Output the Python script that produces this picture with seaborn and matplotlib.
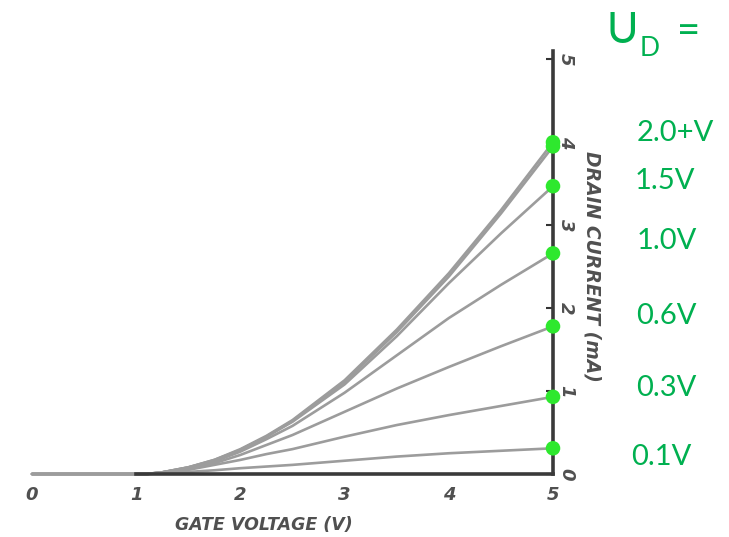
import matplotlib
matplotlib.use("Agg")
import matplotlib.pyplot as plt
import seaborn as sns
import pandas as pd

# gate voltage samples (V)
gate_v = [0, 1.0, 1.1, 1.25, 1.5, 1.75, 2.0, 2.25, 2.5, 3.0, 3.5, 4.0, 4.5, 5.0]

# drain current (mA) for each drain voltage
drain_labels = ["2.5V", "2.0V", "1.5V", "1.0V", "0.6V", "0.3V", "0.1V"]
i_25 = [0, 0, 0, 0.02, 0.08, 0.17, 0.30, 0.46, 0.65, 1.13, 1.74, 2.42, 3.18, 4.00]
i_20 = [0, 0, 0, 0.02, 0.08, 0.17, 0.29, 0.45, 0.64, 1.11, 1.71, 2.38, 3.14, 3.95]
i_15 = [0, 0, 0, 0.02, 0.08, 0.16, 0.29, 0.45, 0.63, 1.08, 1.66, 2.30, 2.90, 3.47]
i_10 = [0, 0, 0, 0.02, 0.07, 0.15, 0.27, 0.42, 0.58, 0.98, 1.43, 1.88, 2.28, 2.66]
i_06 = [0, 0, 0, 0.02, 0.06, 0.13, 0.23, 0.35, 0.47, 0.75, 1.03, 1.29, 1.54, 1.78]
i_03 = [0, 0, 0, 0.015, 0.05, 0.11, 0.17, 0.24, 0.30, 0.45, 0.59, 0.71, 0.82, 0.93]
i_01 = [0, 0, 0, 0.01, 0.025, 0.045, 0.07, 0.09, 0.11, 0.16, 0.21, 0.25, 0.28, 0.31]

# labels on the right (text, x / y pixel of centre)
side_labels = ["2.0+V", "1.5V", "1.0V", "0.6V", "0.3V", "0.1V"]
side_y = [133, 181, 241, 316, 388, 457]
side_x = [637, 635, 637, 636, 636, 631]

currents = [i_25, i_20, i_15, i_10, i_06, i_03, i_01]
rows = []
for lab, vals in zip(drain_labels, currents):
    for v, i in zip(gate_v, vals):
        rows.append({"vg": v, "id": i, "vd": lab})
df = pd.DataFrame(rows)
ends = df[df["vg"] == gate_v[-1]]

sns.set_style("white")

W, H = 729, 537
fig = plt.figure(figsize=(W / 100, H / 100), dpi=100)
ax = fig.add_axes([32 / W, 63 / H, 521 / W, 423 / H])

grey = "#9c9c9c"
sns.lineplot(data=df, x="vg", y="id", hue="vd", palette=[grey] * 7,
             linewidth=1.9, legend=False, ax=ax, clip_on=False)
sns.scatterplot(data=ends, x="vg", y="id", color="#2ee82e", s=110,
                edgecolor="none", legend=False, ax=ax, clip_on=False, zorder=5)

ax.set_xlim(0, 5)
ax.set_ylim(0, 5.1)

for s in ["left", "top"]:
    ax.spines[s].set_visible(False)
for s in ["right", "bottom"]:
    ax.spines[s].set_color("#3a3a3a")
    ax.spines[s].set_linewidth(2.6)
ax.spines["bottom"].set_bounds(1.0, 5)
ax.spines["right"].set_bounds(0, 5.1)

tick_font = dict(fontsize=13, fontweight="bold", fontstyle="italic", color="#505050")
ax.set_xticks(range(6))
ax.set_xticklabels([str(t) for t in range(6)], **tick_font)
ax.yaxis.tick_right()
ax.set_yticks(range(6))
ax.set_yticklabels([str(t) for t in range(6)], rotation=-90, va="center", **tick_font)
ax.tick_params(axis="x", direction="in", length=6, width=1.5, color="#333333", pad=9)
ax.tick_params(axis="y", direction="in", length=5, width=1.5, color="#333333", pad=3)

ax.set_xlabel("GATE VOLTAGE (V)", fontsize=12.5, fontweight="bold",
              fontstyle="italic", color="#505050")
ax.xaxis.set_label_coords((264 - 32) / 521, -0.1)
ax.set_ylabel("")
fig.text(592 / W, 1 - 266 / H, "DRAIN CURRENT (mA)", rotation=-90,
         ha="center", va="center", fontsize=13.5, fontweight="bold",
         fontstyle="italic", color="#505050")

green = "#00b050"
fig.text(606 / W, 1 - 31 / H, "U", fontsize=31, color=green, family="Lato",
         ha="left", va="center")
fig.text(640 / W, 1 - 49 / H, "D", fontsize=19, color=green, family="Lato",
         ha="left", va="center")
fig.text(677 / W, 1 - 31 / H, "=", fontsize=29, color=green, family="Lato",
         ha="left", va="center")
for txt, px, py in zip(side_labels, side_x, side_y):
    fig.text(px / W, 1 - py / H, txt, fontsize=21, color=green, family="Lato",
             ha="left", va="center")

fig.savefig("out.png", dpi=100, facecolor="white")
